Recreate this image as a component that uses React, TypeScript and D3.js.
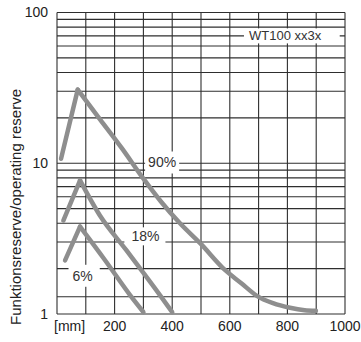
import { useRef, useEffect } from 'react';
import * as d3 from 'd3';

const width = 361;
const height = 342;

// distance in mm, value = operating reserve
const curve90: [number, number][] = [
  [14, 10.7], [72, 30.8], [150, 19.5], [225, 12.6], [300, 7.9], [360, 5.6],
  [427, 4.0], [497, 2.95], [583, 1.96], [640, 1.6], [694, 1.32], [750, 1.18],
  [809, 1.1], [860, 1.06], [899, 1.05],
];
const curve18: [number, number][] = [
  [22, 4.17], [80, 7.7], [149, 4.5], [240, 2.66], [358, 1.33], [400, 1.03],
];
const curve6: [number, number][] = [
  [28, 2.27], [80, 3.8], [165, 2.3], [253, 1.34], [300, 1.03],
];

const xTicks = [200, 400, 600, 800, 1000];
const yTicks = [1, 10, 100];
const xGrid = [0, 100, 200, 300, 400, 500, 600, 700, 800, 900, 1000];
const yGrid = [1, 1.3, 2, 3, 4, 5, 6, 7, 8, 9, 10, 20, 30, 40, 50, 60, 70, 80, 90, 100];

const labels = [
  { text: '90%', mm: 365, value: 10.1, padL: 3, padR: 3, padY: 3 },
  { text: '18%', mm: 307, value: 3.27, padL: 7, padR: 6, padY: 1 },
  { text: '6%', mm: 89, value: 1.79, padL: 4, padR: 7, padY: 3 },
  { text: 'WT100 xx3x', mm: 792, value: 70, padL: 5, padR: 18, padY: 0 },
];

const font = '"Liberation Sans", Arial, sans-serif';

export default function App() {
  const ref = useRef<SVGSVGElement>(null);

  useEffect(() => {
    const svg = d3.select(ref.current);
    svg.selectAll('*').remove();

    const x = d3.scaleLinear().domain([0, 1000]).range([57, 345]);
    const y = d3.scaleLog().domain([1, 100]).range([314, 12.5]);

    const grid = svg.append('g').attr('stroke', '#2e2e2e').attr('stroke-width', 1.1);
    grid.selectAll('line.v').data(xGrid).join('line')
      .attr('x1', (d) => x(d)).attr('x2', (d) => x(d))
      .attr('y1', y(1)).attr('y2', y(100));
    grid.selectAll('line.h').data(yGrid).join('line')
      .attr('x1', x(0)).attr('x2', x(1000))
      .attr('y1', (d) => y(d)).attr('y2', (d) => y(d));

    // label boxes (drawn after texts are measured)
    const boxLayer = svg.append('g');

    // rising part straight, falling part smooth
    const rise = d3.line<[number, number]>()
      .x((d) => x(d[0]))
      .y((d) => y(d[1]));
    const fall = d3.line<[number, number]>()
      .x((d) => x(d[0]))
      .y((d) => y(d[1]))
      .curve(d3.curveMonotoneX);

    const curves = svg.append('g')
      .attr('fill', 'none')
      .attr('stroke', '#8e8e8e')
      .attr('stroke-width', 4.5)
      .attr('stroke-linecap', 'round')
      .attr('stroke-linejoin', 'round');
    [curve90, curve18, curve6].forEach((c) => {
      curves.append('path').attr('d', rise(c.slice(0, 2)));
      curves.append('path').attr('d', fall(c.slice(1)));
    });

    const lbl = svg.append('g')
      .attr('font-family', font)
      .attr('font-size', 14)
      .attr('fill', '#333');
    labels.forEach((l) => {
      const t = lbl.append('text')
        .attr('x', x(l.mm))
        .attr('y', y(l.value))
        .attr('dy', '0.35em')
        .attr('text-anchor', 'middle')
        .attr('font-size', l.text.length > 4 ? 13 : 14)
        .text(l.text);
      const b = (t.node() as SVGTextElement).getBBox();
      boxLayer.append('rect')
        .attr('x', b.x - l.padL)
        .attr('y', b.y - l.padY)
        .attr('width', b.width + l.padL + l.padR)
        .attr('height', b.height + 2 * l.padY)
        .attr('fill', '#fff');
    });

    const axes = svg.append('g')
      .attr('font-family', font)
      .attr('font-size', 14)
      .attr('fill', '#222');
    axes.selectAll('text.x').data(xTicks).join('text')
      .attr('x', (d) => x(d))
      .attr('y', 331)
      .attr('text-anchor', 'middle')
      .text((d) => d);
    axes.append('text')
      .attr('x', x(0) - 3)
      .attr('y', 331)
      .text('[mm]');
    axes.selectAll('text.y').data(yTicks).join('text')
      .attr('x', 48)
      .attr('y', (d) => y(d))
      .attr('dy', '0.35em')
      .attr('text-anchor', 'end')
      .text((d) => d);
    axes.append('text')
      .attr('transform', 'translate(21,207) rotate(-90)')
      .attr('text-anchor', 'middle')
      .attr('font-size', 15)
      .text('Funktionsreserve/operating reserve');
  }, []);

  return (
    <div style={{ position: 'fixed', left: 0, top: 0 }}>
      <svg ref={ref} width={width} height={height} style={{ display: 'block', background: '#fff' }} />
    </div>
  );
}
